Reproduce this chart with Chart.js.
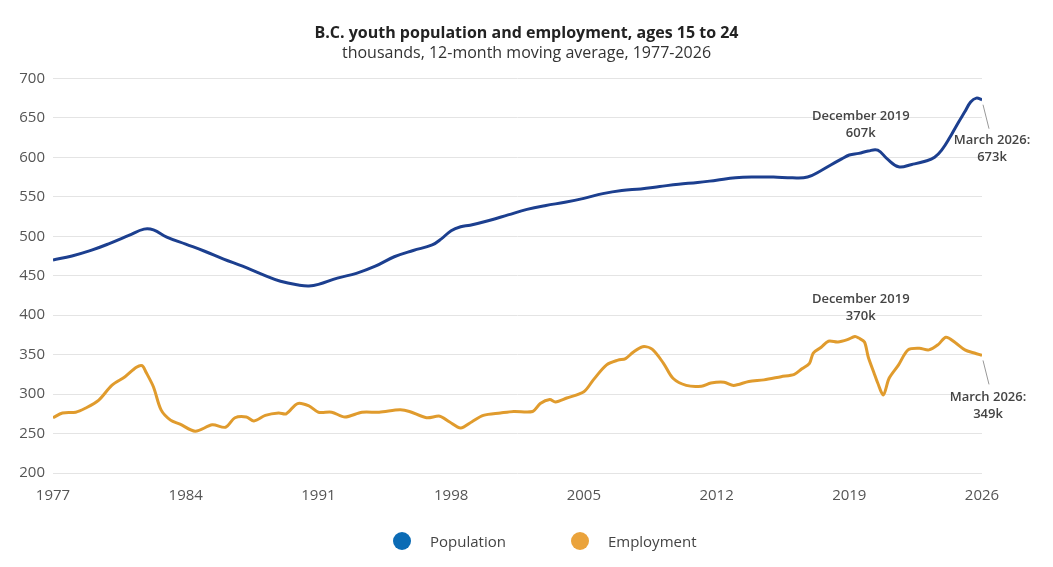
<!DOCTYPE html>
<html>
<head>
<meta charset="utf-8">
<script src="https://cdn.jsdelivr.net/npm/chart.js@4"></script>
<style>
  html, body { margin: 0; padding: 0; background: #fff; }
  #wrap { position: relative; width: 1053px; height: 567px; }
  #legend {
    position: absolute; left: 393px; top: 531px;
    display: flex; align-items: center;
    font-family: "Open Sans", sans-serif; font-size: 15px; color: #444;
  }
  #legend .item { display: flex; align-items: center; margin-right: 65px; }
  #legend .dot { width: 18px; height: 18px; border-radius: 50%; margin-right: 19px; }
</style>
</head>
<body>
<div id="wrap">
  <canvas id="youthChart" width="1053" height="567"></canvas>
  <div id="legend">
    <div class="item"><span class="dot" style="background:#0b6bb5"></span>Population</div>
    <div class="item"><span class="dot" style="background:#eaa33c"></span>Employment</div>
  </div>
</div>
<script>
// values, thousands
const popYears = [
  1977.0, 1978.0, 1979.0, 1980.0, 1981.0, 1981.8, 1982.3, 1983.0, 1984.0, 1985.0,
  1986.0, 1987.0, 1988.0, 1989.0, 1990.0, 1990.5, 1991.0, 1992.0, 1993.0, 1994.0,
  1995.0, 1996.0, 1997.0, 1997.5, 1998.0, 1998.5, 1999.0, 2000.0, 2001.0, 2002.0,
  2003.0, 2004.0, 2005.0, 2006.0, 2007.0, 2008.0, 2009.0, 2010.0, 2011.0, 2012.0,
  2013.0, 2014.0, 2015.0, 2016.0, 2016.8, 2017.5, 2018.0, 2018.6, 2019.0, 2019.5,
  2020.0, 2020.5, 2021.0, 2021.6, 2022.3, 2023.0, 2023.5, 2023.9, 2024.3, 2024.7,
  2025.1, 2025.4, 2025.7, 2026.0
];
const popValues = [
  470, 475, 482, 491, 501, 509, 508, 499, 490, 481,
  471, 462, 452, 443, 438, 437, 439, 447, 453, 462,
  474, 482, 489, 497, 507, 512, 514, 520, 527, 534,
  539, 543, 548, 554, 558, 560, 563, 566, 568, 571,
  574, 575, 575, 574, 575, 583, 590, 598, 603, 605,
  608, 609, 598, 588, 591, 595, 600, 610, 625, 642,
  658, 670, 675, 673
];

const empYears = [
  1977.0, 1977.5, 1978.2, 1978.7, 1979.4, 1980.1, 1980.8, 1981.4, 1981.7, 1981.9,
  1982.3, 1982.7, 1983.2, 1983.7, 1984.5, 1985.4, 1986.1, 1986.6, 1987.2, 1987.6,
  1988.2, 1988.9, 1989.3, 1989.9, 1990.5, 1991.0, 1991.7, 1992.4, 1993.3, 1994.2,
  1995.3, 1995.8, 1996.7, 1997.4, 1997.9, 1998.5, 1999.1, 1999.7, 2000.6, 2001.3,
  2002.3, 2002.7, 2003.2, 2003.5, 2004.1, 2005.0, 2005.5, 2006.2, 2006.8, 2007.2,
  2007.6, 2008.1, 2008.6, 2009.2, 2009.7, 2010.4, 2011.2, 2011.7, 2012.4, 2012.9,
  2013.7, 2014.5, 2015.4, 2016.1, 2016.5, 2016.9, 2017.1, 2017.5, 2017.9, 2018.4,
  2018.9, 2019.3, 2019.5, 2019.8, 2020.0, 2020.3, 2020.5, 2020.8, 2021.1, 2021.6,
  2022.1, 2022.7, 2023.2, 2023.7, 2024.1, 2024.6, 2025.1, 2025.6, 2026.0
];
const empValues = [
  270, 276, 277, 282, 292, 311, 322, 334, 336, 328,
  309, 280, 267, 262, 253, 261, 258, 270, 271, 266,
  273, 276, 275, 288, 285, 277, 277, 271, 277, 277,
  280, 278, 270, 272, 265, 257, 265, 273, 276, 278,
  278, 288, 293, 290, 295, 303, 318, 337, 343, 345,
  353, 360, 357, 339, 320, 311, 310, 314, 315, 311,
  316, 318, 322, 325, 332, 339, 352, 359, 367, 366,
  369, 373, 371, 366, 347, 327, 314, 299, 320, 337,
  356, 358, 356, 363, 372, 365, 356, 352, 349
];

const xTicks = [1977, 1984, 1991, 1998, 2005, 2012, 2019, 2026];

const notes = [
  { x: 2019.92, y: 607, lines: ["December 2019", "607k"], dx: -6, dy: -35 },
  { x: 2026.0, y: 673, lines: ["March 2026:", "673k"], dx: 10, dy: 41, leader: true },
  { x: 2019.92, y: 370, lines: ["December 2019", "370k"], dx: -6, dy: -40 },
  { x: 2026.0, y: 349, lines: ["March 2026:", "349k"], dx: 6, dy: 42, leader: true }
];

function zip(xs, ys) {
  return xs.map((x, i) => ({ x: x, y: ys[i] }));
}

const notesPlugin = {
  id: "notes",
  afterDatasetsDraw(chart) {
    const ctx = chart.ctx;
    const xs = chart.scales.x;
    const ys = chart.scales.y;
    ctx.save();
    ctx.font = "600 13px 'Open Sans'";
    ctx.fillStyle = "#444";
    ctx.textAlign = "center";
    ctx.textBaseline = "middle";
    notes.forEach(n => {
      const px = xs.getPixelForValue(n.x);
      const py = ys.getPixelForValue(n.y);
      const tx = px + n.dx;
      const ty = py + n.dy;
      if (n.leader) {
        ctx.strokeStyle = "#999";
        ctx.lineWidth = 1;
        ctx.beginPath();
        ctx.moveTo(px + 1, py + 5);
        ctx.lineTo(px + 7, py + 29);
        ctx.stroke();
      }
      n.lines.forEach((t, i) => ctx.fillText(t, tx, ty + i * 17));
    });
    ctx.restore();
  }
};

const ctx = document.getElementById("youthChart").getContext("2d");

new Chart(ctx, {
  type: "line",
  data: {
    datasets: [
      {
        label: "Population",
        data: zip(popYears, popValues),
        borderColor: "#1c3f8f",
        backgroundColor: "#0b6bb5",
        borderWidth: 3,
        pointRadius: 0,
        tension: 0.4,
        fill: false
      },
      {
        label: "Employment",
        data: zip(empYears, empValues),
        borderColor: "#e09b2d",
        backgroundColor: "#eaa33c",
        borderWidth: 3,
        pointRadius: 0,
        tension: 0.3,
        fill: false
      }
    ]
  },
  options: {
    responsive: false,
    animation: false,
    layout: {
      padding: { left: 0, right: 0, bottom: 56, top: 0 }
    },
    plugins: {
      legend: { display: false },
      tooltip: { enabled: false },
      title: {
        display: true,
        text: "B.C. youth population and employment, ages 15 to 24",
        color: "#222",
        font: { family: "Open Sans", size: 16, weight: "bold" },
        padding: { top: 24, bottom: 1 }
      },
      subtitle: {
        display: true,
        text: "thousands, 12-month moving average, 1977-2026",
        color: "#333",
        font: { family: "Open Sans", size: 16 },
        padding: { top: 0, bottom: 15 }
      }
    },
    scales: {
      x: {
        type: "linear",
        min: 1977,
        max: 2026,
        grid: { display: false },
        border: { display: false },
        afterBuildTicks: scale => {
          scale.ticks = xTicks.map(v => ({ value: v }));
        },
        // keep room on the right for the March 2026 notes
        afterFit: scale => {
          scale.paddingRight = 71;
        },
        ticks: {
          color: "#555",
          font: { family: "Open Sans", size: 15 },
          maxRotation: 0,
          autoSkip: false,
          padding: 6,
          callback: v => String(v)
        }
      },
      y: {
        min: 200,
        max: 700,
        grid: { color: "#e4e4e4", drawTicks: false },
        border: { display: false },
        afterFit: scale => {
          scale.width = 53;
        },
        ticks: {
          stepSize: 50,
          color: "#555",
          font: { family: "Open Sans", size: 15 },
          padding: 8
        }
      }
    }
  },
  plugins: [notesPlugin]
});
</script>
</body>
</html>
